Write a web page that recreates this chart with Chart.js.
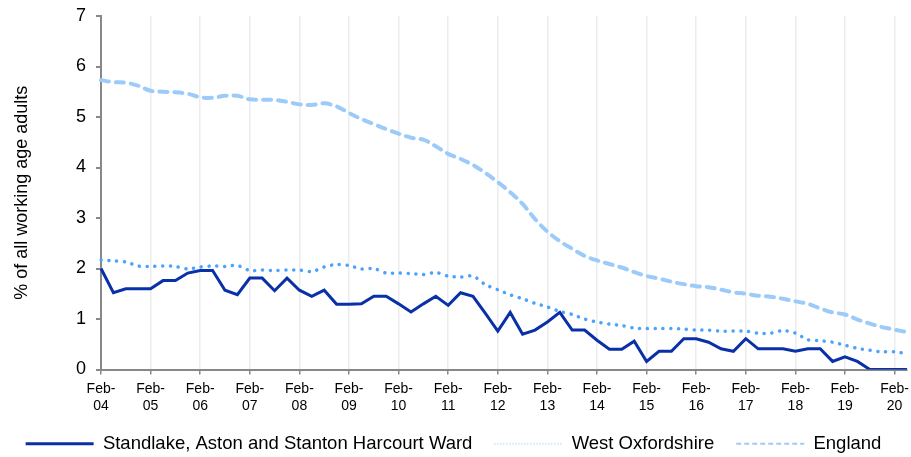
<!DOCTYPE html>
<html>
<head>
<meta charset="utf-8">
<script src="https://cdn.jsdelivr.net/npm/chart.js@4"></script>
<style>
  html, body { margin: 0; padding: 0; background: #fff; }
  #wrap { width: 911px; height: 457px; position: relative; }
</style>
</head>
<body>
<div id="wrap"><canvas id="lineChart"></canvas></div>
<script>
// quarterly points, Feb-04 to May-20
const months = ["Feb", "May", "Aug", "Nov"];
const years = ["04", "05", "06", "07", "08", "09", "10", "11", "12", "13", "14", "15", "16", "17", "18", "19", "20"];
const categories = [];
years.forEach((yy) => {
  months.forEach((m) => {
    if (yy === "20" && (m === "Aug" || m === "Nov")) return;
    categories.push(m + "-" + yy);
  });
});

const seriesNames = ["Standlake, Aston and Stanton Harcourt Ward", "West Oxfordshire", "England"];

const standlake = [
  2.00, 1.52, 1.60, 1.60, 1.60, 1.76, 1.76, 1.91, 1.96, 1.96,
  1.57, 1.48, 1.81, 1.81, 1.56, 1.81, 1.57, 1.45, 1.57, 1.29,
  1.29, 1.30, 1.45, 1.45, 1.30, 1.14, 1.30, 1.45, 1.27, 1.52,
  1.45, 1.11, 0.76, 1.13, 0.70, 0.78, 0.94, 1.13, 0.78, 0.78,
  0.58, 0.40, 0.40, 0.56, 0.16, 0.36, 0.36, 0.61, 0.61, 0.54,
  0.41, 0.36, 0.61, 0.41, 0.41, 0.41, 0.36, 0.41, 0.41, 0.16,
  0.25, 0.16, 0.00, 0.00, 0.00, 0.00
];

const westOxfordshire = [
  2.17, 2.15, 2.13, 2.05, 2.04, 2.05, 2.04, 1.99, 2.03, 2.05,
  2.04, 2.06, 1.96, 1.97, 1.96, 1.97, 1.97, 1.94, 2.03, 2.08,
  2.06, 1.99, 2.00, 1.91, 1.91, 1.90, 1.88, 1.92, 1.85, 1.83,
  1.85, 1.68, 1.58, 1.48, 1.40, 1.31, 1.24, 1.15, 1.09, 1.00,
  0.94, 0.90, 0.87, 0.82, 0.81, 0.81, 0.81, 0.80, 0.78, 0.78,
  0.76, 0.76, 0.76, 0.72, 0.72, 0.77, 0.72, 0.59, 0.57, 0.54,
  0.48, 0.42, 0.38, 0.35, 0.35, 0.31
];

const england = [
  5.73, 5.69, 5.68, 5.62, 5.52, 5.50, 5.49, 5.46, 5.39, 5.38,
  5.42, 5.42, 5.35, 5.34, 5.34, 5.30, 5.25, 5.24, 5.27, 5.21,
  5.08, 4.96, 4.86, 4.76, 4.67, 4.59, 4.55, 4.42, 4.27, 4.17,
  4.05, 3.89, 3.71, 3.51, 3.28, 2.98, 2.73, 2.54, 2.39, 2.25,
  2.16, 2.09, 2.02, 1.93, 1.85, 1.80, 1.74, 1.69, 1.65, 1.63,
  1.58, 1.53, 1.50, 1.46, 1.44, 1.40, 1.35, 1.30, 1.21, 1.13,
  1.09, 0.99, 0.91, 0.84, 0.79, 0.74
];

const yTicks = [0, 1, 2, 3, 4, 5, 6, 7];

Chart.defaults.font.family = "'Liberation Sans', Arial, sans-serif";
Chart.defaults.color = "#000";

const ctx = document.getElementById("lineChart").getContext("2d");

new Chart(ctx, {
  type: "line",
  data: {
    labels: categories,
    datasets: [
      {
        label: seriesNames[0],
        data: standlake,
        borderColor: "#0a30a8",
        borderWidth: 3,
        pointRadius: 0,
        tension: 0,
        borderJoinStyle: "miter",
      },
      {
        label: seriesNames[1],
        data: westOxfordshire,
        borderColor: "#4ca3fb",
        borderWidth: 3.5,
        borderDash: [0.1, 7.7],
        borderCapStyle: "round",
        pointRadius: 0,
        tension: 0.3,
      },
      {
        label: seriesNames[2],
        data: england,
        borderColor: "#9ccbfa",
        borderWidth: 4,
        borderDash: [8, 7],
        borderCapStyle: "round",
        pointRadius: 0,
        tension: 0.35,
      },
    ],
  },
  options: {
    responsive: true,
    maintainAspectRatio: false,
    animation: false,
    layout: {
      padding: { top: 16, right: 4, bottom: -6, left: 0 },
    },
    scales: {
      x: {
        grid: {
          color: "#ececec",
          lineWidth: 1.5,
          tickLength: 5,
          tickColor: "#888",
        },
        border: { color: "#888", width: 2 },
        ticks: {
          autoSkip: false,
          maxRotation: 0,
          minRotation: 0,
          padding: 6,
          font: { size: 14 },
          callback(value, index) {
            const lab = categories[index];
            if (!lab.startsWith("Feb")) return null;
            return ["Feb-", lab.slice(4)];
          },
        },
        afterFit(scale) {
          scale.height = 43;
          scale.paddingLeft = 0;
          scale.paddingRight = 0;
        },
      },
      y: {
        min: yTicks[0],
        max: yTicks[yTicks.length - 1],
        afterBuildTicks(scale) {
          scale.ticks = yTicks.map((v) => ({ value: v }));
        },
        grid: {
          drawOnChartArea: false,
          tickLength: 5,
          tickColor: "#888",
          lineWidth: 2,
        },
        border: { color: "#888", width: 2 },
        ticks: {
          padding: 10,
          font: { size: 18 },
        },
        title: {
          display: true,
          text: "% of all working age adults",
          font: { size: 18 },
          padding: { top: 11, bottom: 4 },
        },
        afterFit(scale) {
          scale.width = 101;
          scale.paddingTop = 0;
          scale.paddingBottom = 0;
        },
      },
    },
    plugins: {
      legend: {
        display: true,
        position: "bottom",
        labels: {
          usePointStyle: true,
          pointStyle: "line",
          pointStyleWidth: 68,
          padding: 22,
          font: { size: 18.5 },
          color: "#000",
          generateLabels(chart) {
            const items = Chart.defaults.plugins.legend.labels.generateLabels(chart);
            items.forEach((it, i) => {
              it.pointStyle = "line";
              if (i === 1) { it.lineWidth = 2; it.lineDash = [1, 2]; it.strokeStyle = "#b9dcfc"; it.lineCap = "butt"; }
              if (i === 2) { it.lineWidth = 2; it.lineDash = [5, 3]; it.lineCap = "butt"; }
            });
            return items;
          },
        },
      },
      tooltip: { enabled: false },
    },
  },
});
</script>
</body>
</html>
